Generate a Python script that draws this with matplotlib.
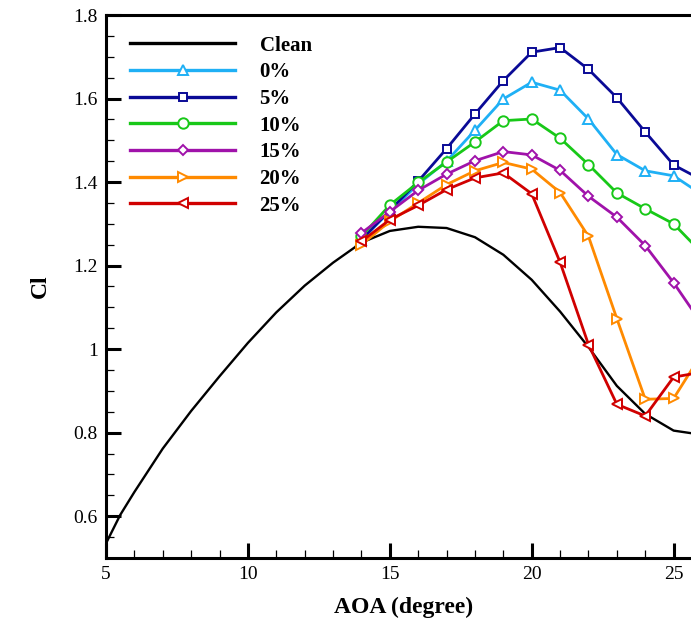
import numpy as np
import matplotlib
matplotlib.use("Agg")
import matplotlib.pyplot as plt
from matplotlib.ticker import MultipleLocator

plt.rcParams['font.family'] = ['Liberation Serif', 'DejaVu Serif']

# clean airfoil (no marker)
aoa_clean = [5, 5.5, 6, 7, 8, 9, 10, 11, 12, 13, 14, 15, 16, 17, 18, 19, 20, 21, 22, 23, 24, 25, 26]
cl_clean = [0.535, 0.603, 0.658, 0.762, 0.852, 0.935, 1.015, 1.088, 1.152, 1.207, 1.255, 1.283, 1.293,
            1.290, 1.268, 1.226, 1.166, 1.090, 1.005, 0.912, 0.845, 0.805, 0.795]

# iced cases, markers at integer AOA
aoa = [14, 15, 16, 17, 18, 19, 20, 21, 22, 23, 24, 25, 26]
cl_0 = [1.262, 1.330, 1.395, 1.450, 1.524, 1.599, 1.639, 1.620, 1.551, 1.466, 1.427, 1.415, 1.370]
cl_5 = [1.262, 1.332, 1.402, 1.480, 1.563, 1.643, 1.711, 1.722, 1.670, 1.602, 1.520, 1.441, 1.405]
cl_10 = [1.270, 1.345, 1.399, 1.448, 1.496, 1.547, 1.551, 1.505, 1.442, 1.374, 1.336, 1.300, 1.230]
cl_15 = [1.278, 1.329, 1.380, 1.419, 1.451, 1.473, 1.465, 1.428, 1.366, 1.316, 1.248, 1.159, 1.060]
cl_20 = [1.250, 1.306, 1.350, 1.394, 1.427, 1.447, 1.431, 1.375, 1.270, 1.073, 0.880, 0.882, 0.990]
cl_25 = [1.258, 1.310, 1.344, 1.382, 1.410, 1.422, 1.372, 1.208, 1.011, 0.868, 0.840, 0.933, 0.945]

labels = ['Clean', '0%', '5%', '10%', '15%', '20%', '25%']
colors = ['black', '#1fb0f5', '#0a0a96', '#18c818', '#a012aa', '#ff8a00', '#d00000']
markers = [None, '^', 's', 'o', 'D', '>', '<']
series = [cl_0, cl_5, cl_10, cl_15, cl_20, cl_25]

fig = plt.figure(figsize=(6.91, 6.23), dpi=100)
ax = fig.add_axes([106 / 691, 65 / 623, 596 / 691, 543 / 623])

ax.plot(aoa_clean, cl_clean, color=colors[0], lw=1.7, label=labels[0])
msizes = [7, 6, 7.5, 5.5, 7.5, 7.5]
for vals, lab, c, m, ms in zip(series, labels[1:], colors[1:], markers[1:], msizes):
    ax.plot(aoa, vals, color=c, lw=2.0, marker=m, markersize=ms, markerfacecolor='white',
            markeredgecolor=c, markeredgewidth=1.4, label=lab)

ax.set_xlim(5, 26)
ax.set_ylim(0.5, 1.8)
ax.xaxis.set_major_locator(MultipleLocator(5))
ax.xaxis.set_minor_locator(MultipleLocator(1))
ax.yaxis.set_major_locator(MultipleLocator(0.2))
ax.yaxis.set_minor_locator(MultipleLocator(0.05))
ax.set_yticks([0.6, 0.8, 1.0, 1.2, 1.4, 1.6, 1.8])
ax.set_yticklabels(['0.6', '0.8', '1', '1.2', '1.4', '1.6', '1.8'])
ax.tick_params(which='major', direction='in', length=11, width=2.2, labelsize=14, pad=6)
ax.tick_params(which='minor', direction='in', length=6, width=0.9)
for s in ax.spines.values():
    s.set_linewidth(2.2)

ax.set_xlabel('AOA (degree)', fontsize=17, fontweight='bold', labelpad=10)
ax.set_ylabel('Cl', fontsize=17, fontweight='bold', labelpad=16)

leg = ax.legend(loc='upper left', bbox_to_anchor=(0.02, 0.985), frameon=False,
                prop={'size': 15, 'weight': 'bold'}, handlelength=5.0, handletextpad=1.2,
                labelspacing=0.32, borderaxespad=0.2)
for h in leg.get_lines():
    h.set_linewidth(2.4)

fig.savefig('out.png', dpi=100)
